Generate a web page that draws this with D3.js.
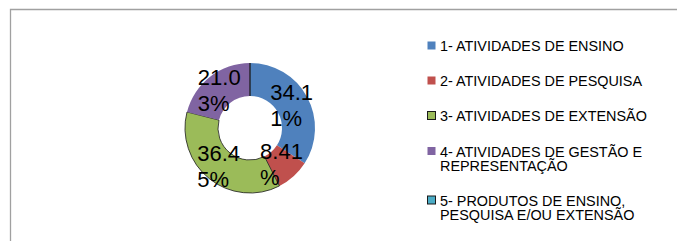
<!DOCTYPE html>
<html>
<head>
<meta charset="utf-8">
<script src="https://cdn.jsdelivr.net/npm/d3@7"></script>
<style>
  body { margin: 0; background: #fff; }
  svg { display: block; font-family: "Liberation Sans", Arial, sans-serif; }
</style>
</head>
<body>
<svg></svg>
<script>
// Dimensions of the page and of the donut.
let vWidth = 677;
let vHeight = 241;
let vCx = 250;
let vCy = 128;
let vOuter = 65;
let vInner = 32;

let vCategories = [
  ["1- ATIVIDADES DE ENSINO"],
  ["2- ATIVIDADES DE PESQUISA"],
  ["3- ATIVIDADES DE EXTENSÃO"],
  ["4-  ATIVIDADES DE GESTÃO E", "REPRESENTAÇÃO"],
  ["5- PRODUTOS DE ENSINO,", "PESQUISA E/OU EXTENSÃO"]
];
let vValues = [34.11, 8.41, 36.45, 21.03, 0];
let vColors = ["#4f81bd", "#c0504d", "#9bbb59", "#8064a2", "#4bacc6"];
let vOutlined = [false, false, true, false, true];

let vColor = d3.scaleOrdinal()
  .domain(d3.range(vValues.length))
  .range(vColors);

let svg = d3.select('svg')
  .attr('width', vWidth)
  .attr('height', vHeight)

// frame of the chart area (only top and left edges are in view)
svg.append('path')
  .attr('d', `M10.5,${vHeight} V9.5 H${vWidth}`)
  .style('fill', 'none')
  .style('stroke', '#a0a0a0')
  .style('stroke-width', 1.3)

let g = svg.append('g')
  .attr('transform', `translate(${vCx}, ${vCy})`)

let vPie = d3.pie()
  .sort(null)
  .value((d) => {
    return d
  })

let vArc = d3.arc()
  .innerRadius(vInner)
  .outerRadius(vOuter)

let vLabelArc = d3.arc()
  .innerRadius((vInner + vOuter) / 2)
  .outerRadius((vInner + vOuter) / 2)

let vArcs = vPie(vValues)

g.selectAll('path')
  .data(vArcs)
  .enter()
  .append('path')
  .attr('d', vArc)
  .style('fill', (d) => {
    return vColor(d.index)
  })
  .style('stroke', (d) => {
    return vOutlined[d.index] ? '#1a1a1a' : 'none'
  })
  .style('stroke-width', 0.8)

// data labels: Excel wraps them after four characters
let vLabels = g.selectAll('g.label')
  .data(vArcs.filter((d) => {
    return d.value > 0
  }))
  .enter()
  .append('g')
  .attr('class', 'label')

vLabels.each(function (d) {
  let vText = d.data.toFixed(2) + '%'
  let vLines = [vText.slice(0, 4), vText.slice(4)]
  let vC = vLabelArc.centroid(d)
  let t = d3.select(this).append('text')
    .style('font-size', '22px')
    .style('fill', '#000')
  vLines.forEach((s, i) => {
    t.append('tspan')
      .attr('x', 0)
      .attr('y', -5 + i * 26)
      .text(s)
  })
  let vW = t.node().getBBox().width
  d3.select(this).attr('transform', `translate(${vC[0] - vW / 2 - 1}, ${vC[1]})`)
})

// legend
let vRowY = [51, 86, 121, 156.5, 205.5];
let vLegend = svg.append('g')
  .attr('transform', 'translate(427, 0)')

let vItems = vLegend.selectAll('g')
  .data(vCategories)
  .enter()
  .append('g')
  .attr('transform', (d, i) => {
    return `translate(0, ${vRowY[i]})`
  })

vItems.append('rect')
  .attr('x', 0.5)
  .attr('y', -9.5)
  .attr('width', 8)
  .attr('height', 8)
  .style('fill', (d, i) => {
    return vColor(i)
  })
  .style('stroke', (d, i) => {
    return vOutlined[i] ? '#1a1a1a' : 'none'
  })

vItems.append('text')
  .style('font-size', '14.4px')
  .style('fill', '#000')
  .selectAll('tspan')
  .data((d) => {
    return d
  })
  .enter()
  .append('tspan')
  .attr('x', 13)
  .attr('y', (d, i) => {
    return i * 14
  })
  .text((d) => {
    return d
  })
</script>
</body>
</html>
